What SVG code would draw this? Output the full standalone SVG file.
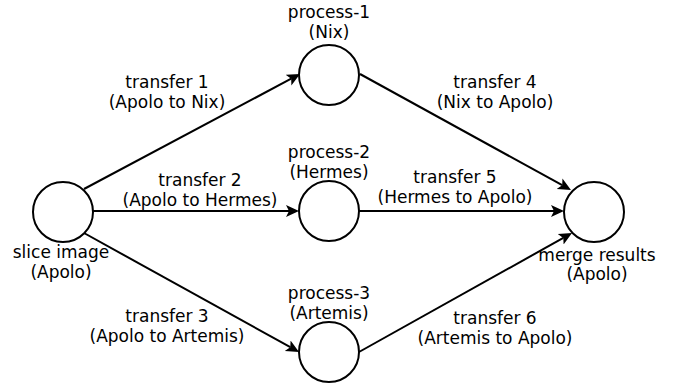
<svg xmlns="http://www.w3.org/2000/svg" width="681" height="384" viewBox="0 0 681 384">
  <style>
    .node circle { fill: #fff; stroke: #000; stroke-width: 2; }
    text { font-family: "DejaVu Sans", "Liberation Sans", sans-serif; font-size: 17px; fill: #000; text-anchor: middle; }
    .edges line { stroke: #000; stroke-width: 2; fill: none; marker-end: url(#arrow); }
  </style>
  <defs>
    <marker id="arrow" markerUnits="userSpaceOnUse" markerWidth="15" markerHeight="14" viewBox="0 -7 15 14" refX="3" refY="0" orient="auto">
      <path d="M0,-6 L13,0 L0,6 L3,0 Z" fill="#000"/>
    </marker>
  </defs>

  <g id="edges" class="edges">
    <line x1="84" y1="189" x2="291.2" y2="78.7"/>
    <line x1="93" y1="211" x2="289" y2="211"/>
    <line x1="84" y1="233" x2="290.3" y2="347.2"/>
    <line x1="360" y1="74" x2="562.2" y2="185.2"/>
    <line x1="359" y1="211" x2="554" y2="211"/>
    <line x1="359" y1="352" x2="563.3" y2="237.9"/>
  </g>

  <g id="edge-labels">
    <text x="167" y="88">transfer 1</text>
    <text x="167" y="108">(Apolo to Nix)</text>
    <text x="200" y="186">transfer 2</text>
    <text x="200" y="206">(Apolo to Hermes)</text>
    <text x="167" y="322">transfer 3</text>
    <text x="167" y="342">(Apolo to Artemis)</text>
    <text x="495" y="88">transfer 4</text>
    <text x="495" y="108">(Nix to Apolo)</text>
    <text x="455" y="183">transfer 5</text>
    <text x="455" y="203">(Hermes to Apolo)</text>
    <text x="495" y="324">transfer 6</text>
    <text x="495" y="344">(Artemis to Apolo)</text>
  </g>

  <g id="slice" class="node">
    <circle cx="63" cy="212" r="30"/>
    <text x="61" y="258">slice image</text>
    <text x="61" y="278">(Apolo)</text>
  </g>
  <g id="process1" class="node">
    <circle cx="329" cy="75" r="30"/>
    <text x="329" y="18">process-1</text>
    <text x="329" y="38">(Nix)</text>
  </g>
  <g id="process2" class="node">
    <circle cx="329" cy="211" r="30"/>
    <text x="329" y="158">process-2</text>
    <text x="329" y="178">(Hermes)</text>
  </g>
  <g id="process3" class="node">
    <circle cx="329" cy="352" r="30"/>
    <text x="329" y="299">process-3</text>
    <text x="329" y="319">(Artemis)</text>
  </g>
  <g id="merge" class="node">
    <circle cx="594" cy="212" r="30"/>
    <text x="597" y="261">merge results</text>
    <text x="597" y="280">(Apolo)</text>
  </g>
</svg>
